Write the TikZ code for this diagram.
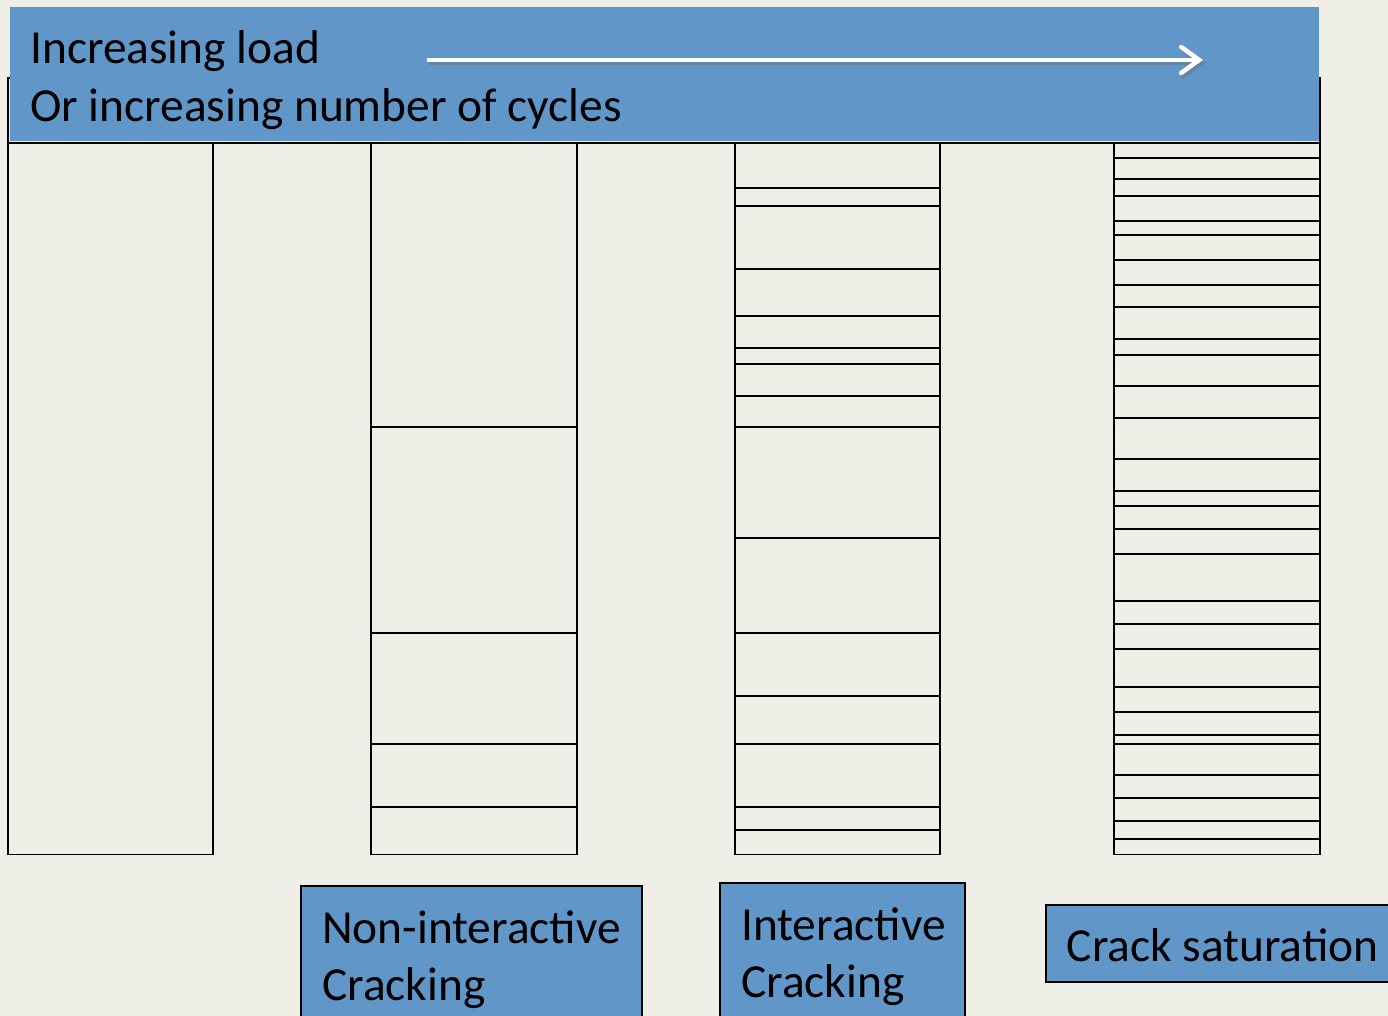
\documentclass[tikz,border=0pt]{standalone}
\usepackage{fontspec}
\setmainfont{Carlito}
\usetikzlibrary{arrows.meta}
\definecolor{bg}{RGB}{239,239,231}
\definecolor{hdr}{RGB}{96,150,200}
\tikzset{
  col/.style={draw=black, line width=1.8pt, fill=bg},
  crack/.style={draw=black, line width=1.8pt},
  lbl/.style={anchor=base west, inner sep=0pt, font=\fontsize{47.4}{56}\selectfont},
  bluebox/.style={fill=hdr, draw=black, line width=1.8pt},
}
\begin{document}
\begin{tikzpicture}[x=1pt,y=-1pt]
\fill[bg] (0,0) rectangle (1388,1016);
\useasboundingbox (0,0) rectangle (1388,1016);
% outline behind header
\draw[crack] (8,78) rectangle (1320,143);
% columns
\draw[col] (8,143) rectangle (213,854.5);
\draw[col] (371,143) rectangle (577,854.5);
\draw[col] (735,143) rectangle (940,854.5);
\draw[col] (1114,143) rectangle (1320,854.5);
\foreach \y in {427,633,744,807}
  \draw[crack] (371,\y) -- (577,\y);
\foreach \y in {187.7,205.7,268.7,316,348.3,364,395.7,427.3,538,633,696.3,744,807,830}
  \draw[crack] (735,\y) -- (940,\y);
\foreach \y in {158,178.7,196.3,221,234.7,259.7,284.7,307,339,354.7,386.3,418,458.7,490.7,506.3,529,553.7,601,623.7,649,687,712,734.7,743.7,775.3,798,820.7,839}
  \draw[crack] (1114,\y) -- (1320,\y);
% header
\fill[hdr] (10,7) rectangle (1319,141.5);
\node[lbl] (t1) at (30,64) {Increasing load};
\node[lbl] (t2) at (30,122) {Or increasing number of cycles};
\coordinate (as) at (427,60);
\coordinate (ae) at (1203,60);
\draw[black!60, opacity=0.35, line width=4.5pt, -{Straight Barb[length=18pt,width=26pt,line cap=round]}] ([shift={(2,3)}]as) -- ([shift={(2,3)}]ae);
\draw[white, line width=4.5pt, -{Straight Barb[length=18pt,width=26pt,line cap=round]}] (as) -- (ae);
% bottom boxes
\draw[bluebox] (301,886) rectangle (642,1030);
\node[lbl] (n1) at (322,943) {Non-interactive};
\node[lbl] (n2) at (322,1000) {Cracking};
\draw[bluebox] (720,882.7) rectangle (965,1030);
\node[lbl] (i1) at (741,940) {Interactive};
\node[lbl] (i2) at (741,997.7) {Cracking};
\draw[bluebox] (1046,905) rectangle (1400,982);
\node[lbl] (s1) at (1066.7,961.7) {Crack saturation};
\end{tikzpicture}
\end{document}
